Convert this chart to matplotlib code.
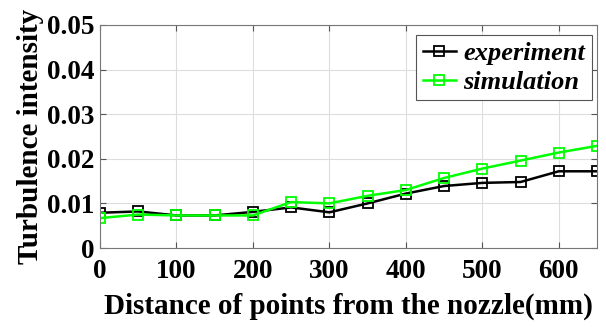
import matplotlib
matplotlib.use("Agg")
import matplotlib.pyplot as plt

x = [0, 50, 100, 150, 200, 250, 300, 350, 400, 450, 500, 550, 600, 650]
experiment = [0.0079, 0.0082, 0.0073, 0.0073, 0.0081, 0.0091, 0.0080, 0.0100, 0.0122, 0.0139, 0.0146, 0.0148, 0.0172, 0.0172]
simulation = [0.0067, 0.0075, 0.0073, 0.0073, 0.0073, 0.0103, 0.0100, 0.0117, 0.0130, 0.0157, 0.0178, 0.0196, 0.0214, 0.0229]
xticks = [0, 100, 200, 300, 400, 500, 600]
yticks = [0, 0.01, 0.02, 0.03, 0.04, 0.05]
yticklabels = ["0", "0.01", "0.02", "0.03", "0.04", "0.05"]

plt.rcParams['font.family'] = ['Liberation Serif', 'DejaVu Serif']

fig = plt.figure(figsize=(6.06, 3.27), dpi=100)
ax = fig.add_axes([100/606, 1 - 248/327, 497/606, 223/327])

ax.plot(x, experiment, color='black', marker='s', markersize=6.5, markerfacecolor='none',
        markeredgewidth=1.3, linewidth=1.8, label='experiment')
ax.plot(x, simulation, color='#00ff00', marker='s', markersize=6.5, markerfacecolor='none',
        markeredgewidth=1.3, linewidth=1.8, label='simulation')

ax.set_xlim(0, 650)
ax.set_ylim(0, 0.05)
ax.set_xticks(xticks)
ax.set_yticks(yticks)
ax.set_yticklabels(yticklabels)
ax.grid(True, color='#dddddd', linewidth=0.8)
ax.tick_params(direction='in', length=4, labelsize=19.5, color='#555555', top=True, right=True)
ax.tick_params(axis='x', pad=8)
ax.tick_params(axis='y', pad=4)
for lbl in ax.get_xticklabels() + ax.get_yticklabels():
    lbl.set_fontweight('bold')
for s in ax.spines.values():
    s.set_color('#777777')
    s.set_linewidth(0.8)

ax.set_xlabel('Distance of points from the nozzle(mm)', fontsize=21, fontweight='bold', labelpad=6)
ax.set_ylabel('Turbulence intensity', fontsize=21, fontweight='bold', labelpad=2)

leg = ax.legend(loc='upper right', bbox_to_anchor=(0.99, 0.955),
                prop={'weight': 'bold', 'style': 'italic', 'size': 19},
                fancybox=False, framealpha=1, edgecolor='#555555',
                handlelength=1.25, handletextpad=0.3, borderpad=0.25, labelspacing=0.2,
                borderaxespad=0)
leg.get_frame().set_linewidth(0.8)

fig.savefig('out.png', dpi=100)
